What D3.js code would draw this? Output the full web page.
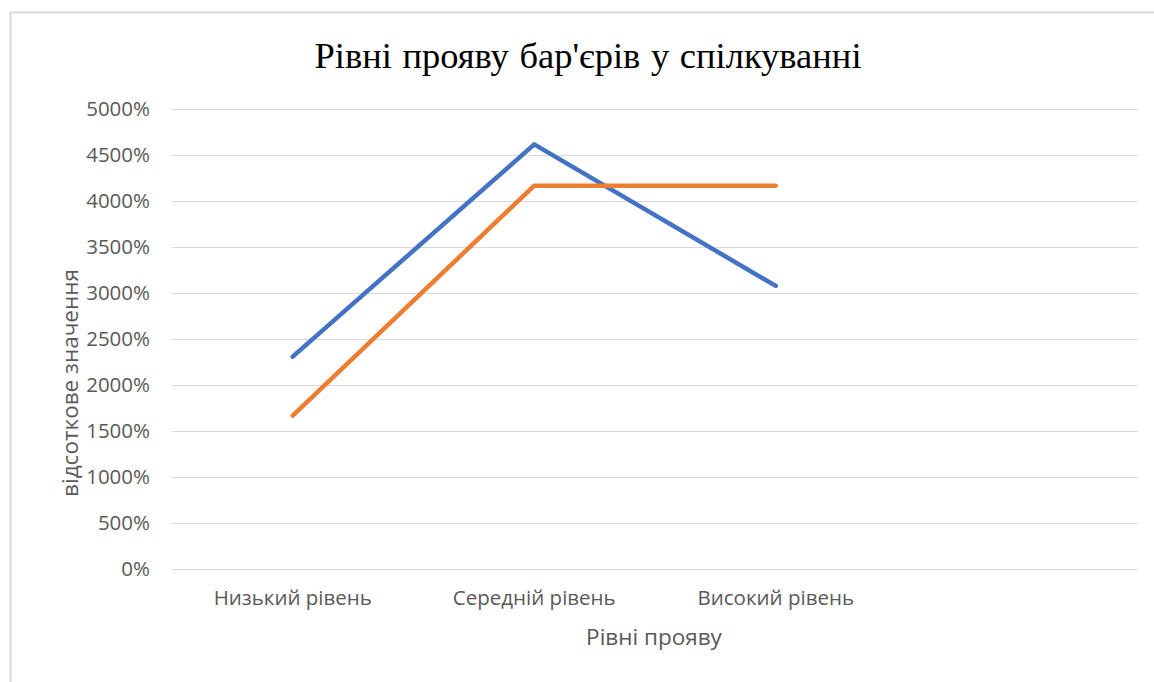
<!DOCTYPE html>
<html>
<head>
<meta charset="utf-8">
<script src="https://cdn.jsdelivr.net/npm/d3@7"></script>
<style>
  body { margin: 0; background: #fff; }
  text { white-space: pre; }
</style>
</head>
<body>
<svg id="canvas" width="1154" height="682"></svg>
<script>
// chart data
const categories = ["Низький рівень", "Середній рівень", "Високий рівень", ""];
const seriesBlue = [2308, 4615, 3077];
const seriesOrange = [1667, 4167, 4167];
const yTicks = [0, 500, 1000, 1500, 2000, 2500, 3000, 3500, 4000, 4500, 5000];

const svg = d3.select('#canvas');

// outer chart frame
svg.append('rect')
    .attr('x', 10.5).attr('y', 12.5)
    .attr('width', 1180).attr('height', 700)
    .attr('fill', '#fff')
    .attr('stroke', '#d9d9d9')
    .attr('stroke-width', 2);

const plotLeft = 172, plotRight = 1138, plotTop = 109, plotBottom = 569;

const x = d3.scaleBand().domain(categories.map((d, i) => i)).range([plotLeft, plotRight]);
const y = d3.scaleLinear().domain([0, 5000]).range([plotBottom, plotTop]);

// gridlines + tick labels
const yAxis = d3.axisLeft(y)
    .tickValues(yTicks)
    .tickSize(-(plotRight - plotLeft))
    .tickPadding(22)
    .tickFormat(d => d + '%');

const gy = svg.append('g')
    .attr('transform', `translate(${plotLeft},0)`)
    .call(yAxis);
gy.select('.domain').remove();
gy.selectAll('.tick line').attr('stroke', '#d9d9d9').attr('stroke-width', 1);
gy.selectAll('.tick text')
    .attr('fill', '#595959')
    .style('font-family', '"Open Sans", sans-serif')
    .style('font-size', '20.5px');

// category labels
const xAxis = d3.axisBottom(x)
    .tickSize(0)
    .tickPadding(21)
    .tickFormat(i => categories[i]);
const gx = svg.append('g')
    .attr('transform', `translate(0,${plotBottom})`)
    .call(xAxis);
gx.select('.domain').remove();
gx.selectAll('.tick text')
    .attr('fill', '#595959')
    .style('font-family', '"Open Sans", sans-serif')
    .style('font-size', '20.5px');

const line = d3.line()
    .x((d, i) => x(i) + x.bandwidth() / 2)
    .y(d => y(d));

svg.append('path')
    .datum(seriesBlue)
    .attr('d', line)
    .attr('fill', 'none')
    .attr('stroke', '#4472c4')
    .attr('stroke-width', 4.5)
    .attr('stroke-linecap', 'round')
    .attr('stroke-linejoin', 'round');

svg.append('path')
    .datum(seriesOrange)
    .attr('d', line)
    .attr('fill', 'none')
    .attr('stroke', '#ed7d31')
    .attr('stroke-width', 4.5)
    .attr('stroke-linecap', 'round')
    .attr('stroke-linejoin', 'round');

// titles
svg.append('text')
    .attr('x', 588).attr('y', 68)
    .attr('text-anchor', 'middle')
    .attr('fill', '#000')
    .style('font-family', '"Liberation Serif", "Times New Roman", serif')
    .style('font-size', '36.5px')
    .style('word-spacing', '1.5px')
    .text("Рівні прояву бар'єрів у спілкуванні");

svg.append('text')
    .attr('x', 654).attr('y', 645)
    .attr('text-anchor', 'middle')
    .attr('fill', '#595959')
    .style('font-family', '"Open Sans", sans-serif')
    .style('font-size', '22.5px')
    .text('Рівні прояву');

svg.append('text')
    .attr('transform', 'translate(78,383) rotate(-90)')
    .attr('text-anchor', 'middle')
    .attr('fill', '#595959')
    .style('font-family', '"Open Sans", sans-serif')
    .style('font-size', '22.5px')
    .text('відсоткове значення');
</script>
</body>
</html>
